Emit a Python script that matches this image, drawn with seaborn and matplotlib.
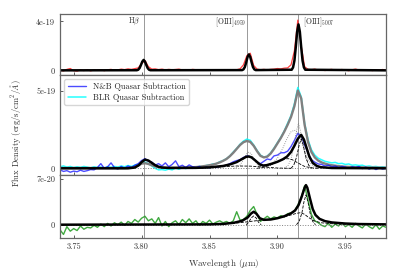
import matplotlib.pyplot as plt
import numpy as np
import seaborn as sns

# observed wavelength grid (um) for the noisy spectra, 0.0025 um steps
WAVE = np.round(np.arange(3.74, 3.98001, 0.0025), 4)
LINES = [3.8015, 3.8779, 3.9153]

# top panel: [OIII]+Hb narrow-line spectrum (1e-19 units)
TOP_DATA = [0.02, -0.05, 0.08, 0.15, -0.03, -0.06, 0.04, -0.02, 0.05, -0.04, 0.03,
            0.0, 0.06, -0.03, 0.05, 0.08, 0.02, 0.04, 0.1, 0.06, 0.12,
            0.08, 0.14, 0.2, 0.55, 0.8, 0.3, 0.1, 0.12, 0.06, 0.1, 0.04, 0.08, 0.05,
            0.07, 0.1, 0.03, 0.06, 0.02, 0.08, 0.05, 0.0, 0.06, 0.03, 0.04,
            0.02, 0.05, 0.0, 0.04, 0.02, 0.06, 0.03, 0.05, 0.12,
            0.45, 1.2, 1.4, 0.4, 0.1, 0.05, 0.08,
            0.04, 0.08, 0.1, 0.15, 0.12, 0.18, 0.2,
            0.45, 1.6, 4.1, 2.0, 0.3, 0.08, 0.05,
            0.1, 0.02, 0.06, -0.02, 0.05, 0.08, 0.0, 0.04, 0.07, 0.02, -0.03,
            0.05, 0.1, 0.03, 0.0, 0.06, 0.04, -0.02, 0.05, 0.02, 0.07, 0.0]
TOP_FIT_X = [3.74, 3.7965, 3.7975, 3.7985, 3.7995, 3.8005, 3.8015, 3.8025, 3.8035, 3.8045, 3.8055, 3.8065,
             3.874, 3.875, 3.876, 3.877, 3.878, 3.879, 3.880, 3.881, 3.882, 3.883, 3.884,
             3.9105, 3.9115, 3.9125, 3.9135, 3.9145, 3.9155, 3.9165, 3.9175, 3.9185, 3.9195, 3.9205, 3.98]
TOP_FIT_Y = [0, 0.01, 0.05, 0.18, 0.43, 0.71, 0.85, 0.71, 0.43, 0.18, 0.05, 0.01,
             0.02, 0.08, 0.27, 0.65, 1.09, 1.3, 1.09, 0.65, 0.27, 0.08, 0.02,
             0.05, 0.24, 0.79, 1.88, 3.15, 3.75, 3.15, 1.88, 0.79, 0.24, 0.05, 0]

# middle panel: quasar-subtracted spectra (1e-19 units)
NB_DATA = [-0.1, -0.2, -0.15, -0.25, -0.18, -0.22, -0.12, -0.2, -0.15, -0.08, -0.1,
           0.05, 0.3, 0.0, 0.1, 0.35, 0.05, -0.05, 0.12, 0.0, 0.15,
           0.05, 0.2, 0.3, 0.5, 0.62, 0.45, 0.4, 0.2, 0.3, 0.15,
           0.35, 0.1, 0.25, 0.48, 0.1, 0.2, 0.05, 0.22, 0.1,
           0.05, 0.12, 0.0, 0.08, 0.02, 0.1, 0.05, 0.12, 0.15, 0.2,
           0.3, 0.42, 0.5, 0.55, 0.7, 0.8, 0.75, 0.6, 0.4, 0.3,
           0.45, 0.6, 0.55, 0.8, 0.85, 1.0, 1.0, 1.1, 1.4, 1.8,
           2.25, 2.1, 1.5, 1.0, 0.55, 0.4, 0.28, 0.25, 0.15, 0.2,
           0.1, 0.15, 0.05, 0.12, 0.08, 0.0, 0.1, 0.05, 0.12, -0.02,
           0.08, -0.05, 0.05, -0.08, 0.02, -0.05, 0.0]
BLR_DATA = [0.1, 0.15, 0.08, 0.12, 0.05, 0.1, 0.06, 0.12, 0.08, 0.03, 0.1,
            0.05, 0.08, 0.02, 0.1, 0.06, 0.12, 0.08, 0.15, 0.1, 0.18,
            0.12, 0.2, 0.25, 0.38, 0.4, 0.3, 0.15, 0.0, -0.1, -0.08,
            -0.12, -0.05, -0.1, 0.02, -0.06, 0.05, -0.02, 0.06, 0.0,
            0.05, 0.12, 0.1, 0.18, 0.2, 0.28, 0.3, 0.42, 0.5, 0.62,
            0.8, 1.05, 1.28, 1.55, 1.75, 1.88, 1.8, 1.5, 1.15, 0.85,
            0.72, 0.78, 1.0, 1.3, 1.65, 2.0, 2.4, 2.9, 3.4, 4.15,
            5.2, 4.6, 2.9, 1.85, 1.2, 0.85, 0.65, 0.55, 0.45, 0.4,
            0.35, 0.38, 0.3, 0.32, 0.25, 0.28, 0.2, 0.22, 0.18, 0.2,
            0.12, 0.15, 0.1, 0.12, 0.08, 0.1, 0.06]
BLR_FIT = [0.02, 0.02, 0.02, 0.02, 0.02, 0.02, 0.02, 0.02, 0.02, 0.02, 0.02,
           0.02, 0.02, 0.02, 0.02, 0.02, 0.02, 0.02, 0.02, 0.02, 0.03,
           0.05, 0.1, 0.2, 0.3, 0.33, 0.28, 0.2, 0.12, 0.08, 0.05,
           0.04, 0.04, 0.04, 0.04, 0.04, 0.05, 0.05, 0.06, 0.07,
           0.08, 0.1, 0.13, 0.16, 0.2, 0.24, 0.3, 0.38, 0.48, 0.6,
           0.78, 1.0, 1.25, 1.5, 1.68, 1.76, 1.7, 1.45, 1.1, 0.8,
           0.7, 0.75, 0.95, 1.25, 1.6, 1.95, 2.35, 2.8, 3.3, 4.0,
           5.0, 4.5, 2.8, 1.7, 1.05, 0.7, 0.5, 0.38, 0.3, 0.24,
           0.2, 0.17, 0.14, 0.12, 0.1, 0.09, 0.08, 0.07, 0.07, 0.06,
           0.06, 0.05, 0.05, 0.05, 0.04, 0.04, 0.04]
NB_FIT_X = [3.74, 3.79, 3.795, 3.798, 3.8, 3.8025, 3.805, 3.8075, 3.81, 3.8125, 3.815, 3.82,
            3.84, 3.85, 3.86, 3.865, 3.87, 3.874, 3.877, 3.879, 3.881, 3.884, 3.887, 3.8895,
            3.892, 3.896, 3.9, 3.904, 3.907, 3.91, 3.9125, 3.915, 3.9175, 3.9195, 3.9215,
            3.9235, 3.926, 3.929, 3.932, 3.94, 3.98]
NB_FIT_Y = [0.0, 0.0, 0.05, 0.2, 0.4, 0.56, 0.5, 0.35, 0.2, 0.1, 0.05, 0.02,
            0.03, 0.06, 0.15, 0.25, 0.4, 0.6, 0.74, 0.76, 0.7, 0.48, 0.25, 0.18,
            0.2, 0.3, 0.42, 0.58, 0.75, 1.05, 1.45, 1.9, 2.15, 1.85, 1.3,
            0.75, 0.35, 0.15, 0.07, 0.02, 0.0]
# gray dotted components of the BLR-subtracted fit
BLR_C1_X = [3.868, 3.872, 3.875, 3.877, 3.879, 3.881, 3.883, 3.886, 3.89]
BLR_C1_Y = [0.0, 0.15, 0.55, 0.9, 1.05, 0.9, 0.55, 0.15, 0.0]
BLR_C2_X = [3.89, 3.895, 3.9, 3.904, 3.907, 3.91, 3.9125, 3.915, 3.9175, 3.92, 3.923, 3.927, 3.932]
BLR_C2_Y = [0.0, 0.2, 0.65, 1.3, 1.9, 2.35, 2.45, 2.3, 1.8, 1.1, 0.45, 0.1, 0.0]
BLR_C3_X = [3.905, 3.908, 3.91, 3.912, 3.914, 3.9155, 3.917, 3.919, 3.921, 3.923, 3.926]
BLR_C3_Y = [0.0, 0.2, 0.6, 1.4, 2.4, 2.9, 2.4, 1.4, 0.6, 0.2, 0.0]
# black dashed components of the N&B-subtracted fit
NB_C1_X = [3.885, 3.89, 3.895, 3.9, 3.905, 3.908, 3.911, 3.915, 3.92, 3.925, 3.93]
NB_C1_Y = [0.0, 0.08, 0.22, 0.42, 0.6, 0.62, 0.55, 0.35, 0.12, 0.03, 0.0]
NB_C2_X = [3.91, 3.912, 3.914, 3.916, 3.9175, 3.919, 3.921, 3.923, 3.925]
NB_C2_Y = [0.0, 0.2, 0.7, 1.5, 1.9, 1.5, 0.7, 0.2, 0.0]
NB_C3_X = [3.84, 3.85, 3.86, 3.87, 3.88, 3.89, 3.9, 3.91]
NB_C3_Y = [0.0, 0.04, 0.1, 0.15, 0.14, 0.08, 0.02, 0.0]

# bottom panel: residual spectrum (1e-20 units)
RES_DATA = [-0.8, -1.5, -0.3, -1.0, -0.6, -0.9, -0.2, -0.7, -0.4, -0.5, -0.1,
            -0.4, 0.1, -0.3, 0.2, -0.2, 0.3, 0.0, 0.4, -0.1, 0.5,
            0.2, 0.8, 0.4, 1.0, 1.3, 0.6, 0.9, 0.2, 1.1, -0.2,
            0.5, -0.3, 0.3, 0.6, 0.0, 0.8, 0.3, 0.9, 0.2, 0.6,
            -0.1, 0.5, 0.2, 0.7, 0.1, 0.4, 0.6, 0.3, 0.5, 0.2,
            0.6, 2.0, 0.7, 0.8, 1.3, 2.2, 2.8, 1.6, 0.5, 0.9,
            1.3, 0.9, 1.2, 1.0, 1.4, 1.2, 1.7, 1.8, 2.1, 3.0,
            4.2, 6.0, 3.8, 1.6, 0.6,
            0.3, -0.1, -0.3, 0.2, -0.4, 0.1, -0.2, 0.3, -0.3, 0.0,
            -0.4, 0.2, -0.2, -0.5, 0.1, -0.3, -0.6, 0.0, -0.7, -0.2, -0.4]
RES_FIT_X = [3.74, 3.85, 3.86, 3.868, 3.874, 3.878, 3.8805, 3.8825, 3.8845, 3.887, 3.89, 3.895,
             3.9, 3.905, 3.91, 3.913, 3.9155, 3.918, 3.92, 3.921, 3.922, 3.924, 3.926, 3.928,
             3.931, 3.935, 3.94, 3.95, 3.96, 3.98]
RES_FIT_Y = [0.0, 0.05, 0.12, 0.3, 0.6, 1.1, 1.7, 2.0, 1.7, 1.0, 0.75, 0.8,
             1.0, 1.3, 1.75, 2.2, 3.0, 4.4, 5.7, 6.1, 5.7, 4.0, 2.4, 1.5,
             0.9, 0.55, 0.35, 0.18, 0.1, 0.05]
RES_C1_X = [3.877, 3.879, 3.8805, 3.8825, 3.8845, 3.886, 3.888]
RES_C1_Y = [0.0, 0.4, 1.0, 1.35, 1.0, 0.4, 0.0]
RES_C2_X = [3.86, 3.87, 3.88, 3.89, 3.9, 3.905, 3.91, 3.914, 3.917, 3.92, 3.923, 3.927, 3.932, 3.94, 3.95, 3.96]
RES_C2_Y = [0.1, 0.25, 0.5, 0.75, 1.0, 1.2, 1.5, 1.75, 1.85, 1.6, 1.1, 0.6, 0.3, 0.15, 0.07, 0.03]
RES_C3_X = [3.914, 3.916, 3.918, 3.9195, 3.921, 3.9225, 3.924, 3.926, 3.928]
RES_C3_Y = [0.0, 0.5, 1.8, 3.5, 4.6, 3.5, 1.8, 0.5, 0.0]

ZERO_X = [3.74, 3.98]
ZERO_Y = [0, 0]

sns.set_style("ticks")
plt.rcParams['font.family'] = 'serif'
plt.rcParams['font.serif'] = ['cmr10', 'DejaVu Serif']
plt.rcParams['mathtext.fontset'] = 'cm'
plt.rcParams['axes.unicode_minus'] = False


def line(ax, x, y, **kw):
    sns.lineplot(x=x, y=y, ax=ax, estimator=None, sort=False, **kw)
    return ax.get_lines()[-1]


fig, axes = plt.subplots(3, 1, figsize=(4.06, 2.8), dpi=100, sharex=True,
                         gridspec_kw={'height_ratios': [61, 100, 63]})
fig.subplots_adjust(left=0.148, right=0.951, top=0.95, bottom=0.15, hspace=0)
ax1, ax2, ax3 = axes

for ax in axes:
    for lam in LINES:
        ax.axvline(lam, color='#999999', lw=0.7, zorder=0)

# top
line(ax1, WAVE, TOP_DATA, color='red', alpha=0.75, lw=0.9)
line(ax1, TOP_FIT_X, TOP_FIT_Y, color='black', lw=1.8)
ax1.set_ylim(-0.38, 4.6)
ax1.set_yticks([0, 4])
ax1.set_yticklabels(['0', '4e-19'])
ax1.text(3.7993, 4.45, r'H$\beta$', ha='right', va='top', fontsize=5.5, color='#333333')
ax1.text(3.8768, 4.45, r'[OIII]$_{4959}$', ha='right', va='top', fontsize=5.5, color='#333333')
ax1.text(3.9185, 4.45, r'[OIII]$_{5007}$', ha='left', va='top', fontsize=5.5, color='#333333')

# middle
h_cyan = line(ax2, WAVE, BLR_DATA, color='cyan', alpha=0.85, lw=1.1)
line(ax2, WAVE, BLR_FIT, color='gray', lw=1.7)
h_blue = line(ax2, WAVE, NB_DATA, color='blue', alpha=0.7, lw=1.0)
line(ax2, ZERO_X, ZERO_Y, color='gray', lw=0.7, ls=':')
for cx, cy in [(BLR_C1_X, BLR_C1_Y), (BLR_C2_X, BLR_C2_Y), (BLR_C3_X, BLR_C3_Y)]:
    line(ax2, cx, cy, color='gray', lw=0.6, ls=':')
for cx, cy in [(NB_C1_X, NB_C1_Y), (NB_C2_X, NB_C2_Y), (NB_C3_X, NB_C3_Y)]:
    line(ax2, cx, cy, color='black', lw=0.6, ls='--')
line(ax2, NB_FIT_X, NB_FIT_Y, color='black', lw=1.8)
ax2.set_ylim(-0.43, 6.0)
ax2.set_yticks([0, 5])
ax2.set_yticklabels(['0', '5e-19'])
ax2.legend([h_blue, h_cyan], ['N&B Quasar Subtraction', 'BLR Quasar Subtraction'],
           loc='upper left', fontsize=6, frameon=True, fancybox=True,
           edgecolor='#cccccc', borderpad=0.4, handlelength=2.2, labelspacing=0.3)
ax2.set_ylabel(r'Flux Density (erg/s/cm$^2$/$\AA$)', fontsize=6.2, color='#333333')
ax2.yaxis.set_label_coords(-0.115, 0.42)

# bottom
line(ax3, WAVE, RES_DATA, color='#2ca02c', alpha=0.9, lw=1.0)
line(ax3, ZERO_X, ZERO_Y, color='gray', lw=0.7, ls=':')
for cx, cy in [(RES_C1_X, RES_C1_Y), (RES_C2_X, RES_C2_Y), (RES_C3_X, RES_C3_Y)]:
    line(ax3, cx, cy, color='black', lw=0.6, ls='--')
line(ax3, RES_FIT_X, RES_FIT_Y, color='black', lw=1.8)
ax3.set_ylim(-2.05, 7.66)
ax3.set_yticks([0, 7])
ax3.set_yticklabels(['0', '7e-20'])
ax3.set_xlim(3.74, 3.98)
ax3.set_xticks([3.75, 3.80, 3.85, 3.90, 3.95])
ax3.set_xticklabels(['3.75', '3.80', '3.85', '3.90', '3.95'])
ax3.set_xlabel(r'Wavelength ($\mu$m)', fontsize=6.5, color='#333333')

for ax in axes:
    ax.tick_params(direction='in', length=2.5, width=0.6, labelsize=6,
                   colors='#444444', labelcolor='#333333')
    for s in ax.spines.values():
        s.set_color('#666666')
        s.set_linewidth(0.9)

plt.savefig('out.png', dpi=100)
